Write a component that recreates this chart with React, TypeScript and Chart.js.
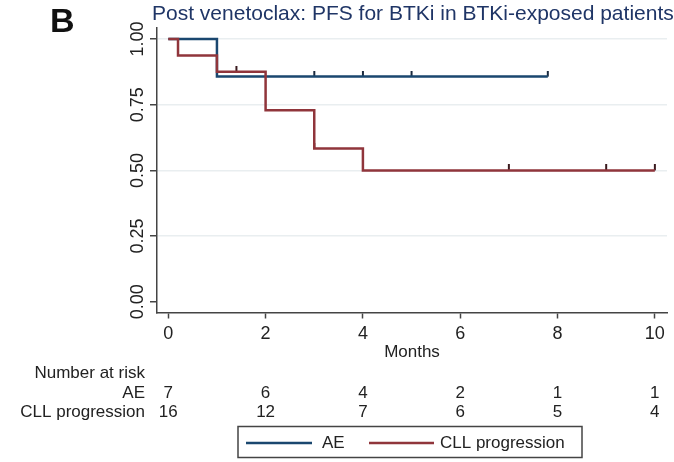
import React, { useEffect, useRef } from "react";
import { Chart, registerables } from "chart.js";

Chart.register(...registerables);

const panelLabel = "B";
const chartTitle = "Post venetoclax: PFS for BTKi in BTKi-exposed patients";
const xTitle = "Months";
const xTicks = [0, 2, 4, 6, 8, 10];
const yTicks = [0, 0.25, 0.5, 0.75, 1];
const yTickLabels = ["0.00", "0.25", "0.50", "0.75", "1.00"];
const seriesNames = ["AE", "CLL progression"];
const seriesColors = ["#1a476f", "#90353b"];

const aeTimes = [0, 1, 7.8];
const aeSurv = [1, 0.857, 0.857];
const aeCensorTimes = [3, 4, 5, 7.8];
const aeCensorSurv = [0.857, 0.857, 0.857, 0.857];

const cllTimes = [0, 0.2, 1, 2, 3, 4, 10];
const cllSurv = [1, 0.9375, 0.875, 0.729, 0.583, 0.5, 0.5];
const cllCensorTimes = [1.4, 3, 7, 9, 10];
const cllCensorSurv = [0.875, 0.583, 0.5, 0.5, 0.5];

const riskTitle = "Number at risk";
const aeAtRisk = [7, 6, 4, 2, 1, 1];
const cllAtRisk = [16, 12, 7, 6, 5, 4];

const FONT = "'Liberation Sans', Arial, Helvetica, sans-serif";

function pts(xs: number[], ys: number[]) {
  return xs.map((x, i) => ({ x, y: ys[i] }));
}

function censorMark(color: string) {
  const c = document.createElement("canvas");
  c.width = 4;
  c.height = 12;
  const g = c.getContext("2d")!;
  g.fillStyle = color;
  g.fillRect(1, 0, 2, 6);
  return c;
}

export default function App() {
  const ref = useRef<HTMLCanvasElement | null>(null);

  useEffect(() => {
    if (!ref.current) return;

    const overlay = {
      id: "overlay",
      afterDraw(chart: any) {
        const ctx = chart.ctx as CanvasRenderingContext2D;
        const area = chart.chartArea;
        const xs = chart.scales.x;
        const ys = chart.scales.y;
        ctx.save();
        // panel label
        ctx.fillStyle = "#111";
        ctx.font = `bold 34px ${FONT}`;
        ctx.textAlign = "left";
        ctx.textBaseline = "alphabetic";
        ctx.fillText(panelLabel, 50, 32);
        // title
        ctx.fillStyle = "#1f3566";
        ctx.font = `21px ${FONT}`;
        ctx.fillText(chartTitle, 152, 20);
        // y tick labels (rotated)
        ctx.fillStyle = "#222";
        ctx.font = `18px ${FONT}`;
        ctx.textAlign = "center";
        ctx.textBaseline = "middle";
        yTicks.forEach((v, i) => {
          const py = ys.getPixelForValue(v);
          ctx.save();
          ctx.translate(138, py);
          ctx.rotate(-Math.PI / 2);
          ctx.fillText(yTickLabels[i], 0, 0);
          ctx.restore();
        });
        // x title
        ctx.font = `17px ${FONT}`;
        ctx.fillText(xTitle, (area.left + area.right) / 2, 352);
        // risk table
        ctx.textAlign = "right";
        ctx.fillText(riskTitle, 145, 373);
        ctx.fillText(seriesNames[0], 145, 393);
        ctx.fillText(seriesNames[1], 145, 412);
        ctx.textAlign = "center";
        xTicks.forEach((t, i) => {
          const px = xs.getPixelForValue(t);
          ctx.fillText(String(aeAtRisk[i]), px, 393);
          ctx.fillText(String(cllAtRisk[i]), px, 412);
        });
        // legend
        ctx.strokeStyle = "#444";
        ctx.lineWidth = 1.5;
        ctx.strokeRect(238, 426.5, 344, 31);
        ctx.lineWidth = 2.5;
        ctx.strokeStyle = seriesColors[0];
        ctx.beginPath();
        ctx.moveTo(246, 443);
        ctx.lineTo(312, 443);
        ctx.stroke();
        ctx.strokeStyle = seriesColors[1];
        ctx.beginPath();
        ctx.moveTo(369, 443);
        ctx.lineTo(434, 443);
        ctx.stroke();
        ctx.fillStyle = "#222";
        ctx.textAlign = "left";
        ctx.fillText(seriesNames[0], 322, 443);
        ctx.fillText(seriesNames[1], 440, 443);
        ctx.restore();
      },
    };

    const chart = new Chart(ref.current, {
      type: "line",
      data: {
        datasets: [
          {
            label: seriesNames[1],
            data: pts(cllTimes, cllSurv),
            borderColor: seriesColors[1],
            borderWidth: 2.5,
            stepped: true,
            pointRadius: 0,
            fill: false,
          } as any,
          {
            label: seriesNames[0],
            data: pts(aeTimes, aeSurv),
            borderColor: seriesColors[0],
            borderWidth: 2.5,
            stepped: true,
            pointRadius: 0,
            fill: false,
          } as any,
          {
            type: "scatter",
            label: "cll-censor",
            data: pts(cllCensorTimes, cllCensorSurv),
            pointStyle: censorMark("#3a1a1e"),
            pointRadius: 5,
            showLine: false,
          } as any,
          {
            type: "scatter",
            label: "ae-censor",
            data: pts(aeCensorTimes, aeCensorSurv),
            pointStyle: censorMark("#1a2a3f"),
            pointRadius: 5,
            showLine: false,
          } as any,
        ],
      },
      options: {
        responsive: false,
        animation: false,
        devicePixelRatio: 1,
        layout: { padding: { left: 0, right: 7, top: 28, bottom: 0 } },
        plugins: {
          legend: { display: false },
          tooltip: { enabled: false },
          title: { display: false },
        },
        scales: {
          x: {
            type: "linear",
            min: -0.232,
            max: 10.25,
            afterBuildTicks: (s: any) => {
              s.ticks = xTicks.map((v) => ({ value: v }));
            },
            afterFit: (s: any) => {
              s.height = 149.5;
            },
            ticks: {
              autoSkip: false,
              maxRotation: 0,
              minRotation: 0,
              padding: 5,
              color: "#222",
              font: { family: FONT, size: 18 },
              callback: (v: any) => String(v),
            },
            grid: {
              drawOnChartArea: false,
              drawTicks: true,
              tickLength: 6,
              tickColor: "#444",
              tickWidth: 1.5,
            },
            border: { color: "#444", width: 1.5 },
          },
          y: {
            type: "linear",
            min: -0.041,
            max: 1.042,
            afterBuildTicks: (s: any) => {
              s.ticks = yTicks.map((v) => ({ value: v }));
            },
            afterFit: (s: any) => {
              s.width = 157;
            },
            ticks: { display: false },
            grid: {
              color: (c: any) => (c.tick && c.tick.value === 0 ? "rgba(0,0,0,0)" : "#e9eef0"),
              lineWidth: 1.5,
              drawTicks: true,
              tickLength: 7,
              tickColor: "#444",
              tickWidth: 1.5,
            },
            border: { color: "#444", width: 1.5 },
          },
        },
      } as any,
      plugins: [overlay],
    });

    return () => chart.destroy();
  }, []);

  return (
    <div style={{ position: "absolute", left: 0, top: 0, width: 674, height: 462, background: "#fff" }}>
      <canvas ref={ref} width={674} height={462} style={{ display: "block" }} />
    </div>
  );
}
